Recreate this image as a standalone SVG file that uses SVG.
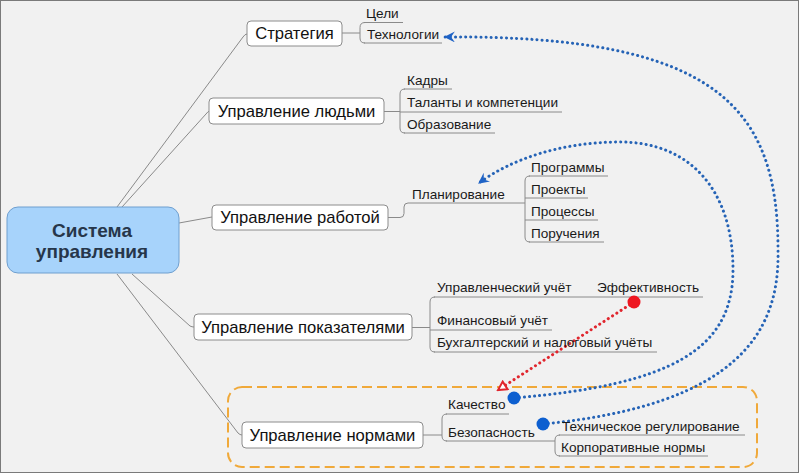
<svg xmlns="http://www.w3.org/2000/svg" width="800" height="474" viewBox="0 0 800 474">
<defs>
<style>
.bg{fill:#f1f1f1;stroke:#7a7a7a;stroke-width:1}
.topic{fill:#ffffff;stroke:#8c8c8c;stroke-width:1}
.central{fill:#a7d3fb;stroke:#6f9fcf;stroke-width:1}
.ct{font-family:"Liberation Sans",Arial,sans-serif;font-size:19px;font-weight:bold;fill:#26364a;text-anchor:middle}
.tt{font-family:"Liberation Sans",Arial,sans-serif;font-size:16.6px;fill:#111;text-anchor:middle}
.st{font-family:"Liberation Sans",Arial,sans-serif;font-size:13.6px;fill:#1a1a1a}
.ln{fill:none;stroke:#8a8a8a;stroke-width:1}
.blue{fill:none;stroke:#2563b6;stroke-width:3;stroke-dasharray:0.1 5;stroke-linecap:round}
.red{fill:none;stroke:#e0262e;stroke-width:3;stroke-dasharray:0.1 5;stroke-linecap:round}
.bdot{fill:#0d5fd0}
.rdot{fill:#ee1620}
.bound{fill:none;stroke:#f0a93a;stroke-width:2;stroke-dasharray:10 5}
</style>
<marker id="ab" viewBox="0 0 10 10" refX="9" refY="5" markerWidth="11" markerHeight="11" markerUnits="userSpaceOnUse" orient="auto">
<path d="M0,0 L10,5 L0,10 L3.5,5 Z" fill="#1f63c6" stroke="none"/>
</marker>
<marker id="ar" viewBox="0 0 12 12" refX="10" refY="6" markerWidth="12" markerHeight="12" markerUnits="userSpaceOnUse" orient="auto">
<path d="M1.5,1.5 L10,6 L1.5,10.5 Z" fill="#ffffff" stroke="#e0262e" stroke-width="2"/>
</marker>
</defs>
<rect class="bg" x="0.5" y="0.5" width="798" height="472"/>

<g id="boundary">
<rect class="bound" x="228" y="387" width="529" height="80" rx="14"/>
</g>

<g id="connectors">
<path class="ln" d="M117,207 L243,37 Q245,34 247,34"/>
<path class="ln" d="M122,207 L206,114 Q208,111 210,111"/>
<path class="ln" d="M179,223 L212,217"/>
<path class="ln" d="M132,274 L190,326 Q192,327 194,327"/>
<path class="ln" d="M117,274 L238,433 Q240,435 242,435"/>
<!-- Стратегия -->
<path class="ln" d="M342,33 L360,33"/>
<path class="ln" d="M365,22.5 Q360,22.5 360,27.5 L360,38 Q360,43 365,43"/>
<path class="ln" d="M364,22.5 L403,22.5 M364,43 L442,43"/>
<!-- людьми -->
<path class="ln" d="M384,111.5 L400,111.5"/>
<path class="ln" d="M405,89 Q400,89 400,94 L400,128 Q400,133 405,133"/>
<path class="ln" d="M404,89 L452,89 M400,112 L562,112 M404,133 L495,133"/>
<!-- работой -->
<path class="ln" d="M388,217.5 L400,217.5 Q404,217.5 404,213.5 L404,207 Q404,203 408,203 L525,203"/>
<path class="ln" d="M530,176 Q525,176 525,181 L525,237 Q525,242 530,242"/>
<path class="ln" d="M529,176 L608,176 M525,198 L588,198 M525,220 L598,220 M529,242 L604,242"/>
<!-- показателями -->
<path class="ln" d="M412,327.5 L430,327.5"/>
<path class="ln" d="M435,297 Q430,297 430,302 L430,347 Q430,352 435,352"/>
<path class="ln" d="M434,297 L703,297 M430,330 L552,330 M434,352 L657,352"/>
<!-- нормами -->
<path class="ln" d="M423,435 L442,435"/>
<path class="ln" d="M447,414 Q442,414 442,419 L442,436 Q442,441 447,441"/>
<path class="ln" d="M446,414 L509,414 M446,441 L555,441"/>
<path class="ln" d="M560,435 Q555,435 555,440 L555,451 Q555,456 560,456"/>
<path class="ln" d="M559,435 L745,435 M559,456 L708,456"/>

<!-- relationships -->
<path class="blue" d="M543,424 C740,405 780,330 778,250 C778,110 720,35 445,37" marker-end="url(#ab)"/>
<path class="blue" d="M514,398 C670,385 733,350 733,270 C733,190 690,142 620,142 C560,142 510,160 479,183" marker-end="url(#ab)"/>
<path class="red" d="M634,302 L498,390" marker-end="url(#ar)"/>
<circle class="bdot" cx="543" cy="424" r="6.5"/>
<circle class="bdot" cx="514" cy="398" r="6.5"/>
<circle class="rdot" cx="634" cy="302" r="6.5"/>
</g>

<g id="central">
<rect class="central" x="7" y="207" width="172" height="66" rx="11"/>
<text class="ct" x="92" y="237">Система</text>
<text class="ct" x="92" y="258">управления</text>
</g>

<g id="strategy">
<rect class="topic" x="247" y="21" width="95" height="25" rx="4"/>
<text class="tt" x="294.5" y="39">Стратегия</text>
</g>
<g id="strategy-children">
<text class="st" x="366" y="18">Цели</text>
<text class="st" x="367" y="39">Технологии</text>
</g>

<g id="people">
<rect class="topic" x="209" y="98" width="175" height="26" rx="4"/>
<text class="tt" x="296.5" y="117">Управление людьми</text>
</g>
<g id="people-children">
<text class="st" x="407" y="85">Кадры</text>
<text class="st" x="407" y="107">Таланты и компетенции</text>
<text class="st" x="407" y="129">Образование</text>
</g>

<g id="work">
<rect class="topic" x="212" y="205" width="176" height="25" rx="4"/>
<text class="tt" x="300" y="223">Управление работой</text>
</g>
<g id="work-children">
<text class="st" x="412" y="199">Планирование</text>
<text class="st" x="531" y="172">Программы</text>
<text class="st" x="531" y="194">Проекты</text>
<text class="st" x="531" y="216">Процессы</text>
<text class="st" x="531" y="238">Поручения</text>
</g>

<g id="indicators">
<rect class="topic" x="194" y="314" width="218" height="26" rx="4"/>
<text class="tt" x="303" y="333">Управление показателями</text>
</g>
<g id="indicators-children">
<text class="st" x="437" y="292">Управленческий учёт</text>
<text class="st" x="597" y="292">Эффективность</text>
<text class="st" x="437" y="325">Финансовый учёт</text>
<text class="st" x="437" y="347">Бухгалтерский и налоговый учёты</text>
</g>

<g id="norms">
<rect class="topic" x="242" y="422" width="181" height="26" rx="4"/>
<text class="tt" x="332.5" y="441">Управление нормами</text>
</g>
<g id="norms-children">
<text class="st" x="448" y="409">Качество</text>
<text class="st" x="448" y="437">Безопасность</text>
<text class="st" x="562" y="431">Техническое регулирование</text>
<text class="st" x="561" y="452">Корпоративные нормы</text>
</g>
</svg>
